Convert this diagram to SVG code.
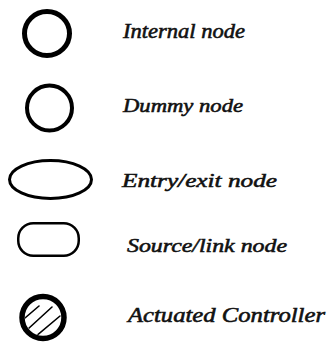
<svg xmlns="http://www.w3.org/2000/svg" width="329" height="344" viewBox="0 0 329 344">
  <style>
    .shape { fill: none; stroke: #000; }
    .label { font-family: "Liberation Serif", "DejaVu Serif", serif; font-style: italic; font-weight: normal; fill: #111; stroke: #111; stroke-width: 0.55; }
    .hatch { stroke: #000; stroke-width: 1.6; stroke-linecap: round; }
  </style>
  <defs>
    <clipPath id="ctrl-clip">
      <circle cx="43" cy="317.5" r="18"/>
    </clipPath>
  </defs>

  <rect width="329" height="344" fill="#fff"/>

  <!-- Internal node -->
  <g id="internal-node">
    <ellipse class="shape" cx="47" cy="33.5" rx="22.5" ry="22" stroke-width="5"/>
    <text class="label" x="123" y="38" font-size="20" textLength="122" lengthAdjust="spacingAndGlyphs">Internal node</text>
  </g>

  <!-- Dummy node -->
  <g id="dummy-node">
    <circle class="shape" cx="49.5" cy="108" r="22.5" stroke-width="4"/>
    <text class="label" x="123" y="111.5" font-size="19" textLength="120" lengthAdjust="spacingAndGlyphs">Dummy node</text>
  </g>

  <!-- Entry/exit node -->
  <g id="entry-exit-node">
    <ellipse class="shape" cx="50.5" cy="179.5" rx="41" ry="19" stroke-width="3"/>
    <text class="label" x="122" y="186.5" font-size="19.5" textLength="155" lengthAdjust="spacingAndGlyphs">Entry/exit node</text>
  </g>

  <!-- Source/sink node -->
  <g id="source-sink-node">
    <rect class="shape" x="18.25" y="223.25" width="60.5" height="32.5" rx="15" ry="15" stroke-width="2.5"/>
    <text class="label" x="127" y="251.5" font-size="19" textLength="160" lengthAdjust="spacingAndGlyphs">Source/link node</text>
  </g>

  <!-- Actuated controller -->
  <g id="actuated-controller">
    <g clip-path="url(#ctrl-clip)">
      <line class="hatch" x1="25" y1="318" x2="39" y2="306"/>
      <line class="hatch" x1="28" y1="329" x2="52" y2="307"/>
      <line class="hatch" x1="35" y1="337" x2="60" y2="316"/>
    </g>
    <circle class="shape" cx="43" cy="317.5" r="21" stroke-width="5.5"/>
    <text class="label" x="128" y="322" font-size="20" textLength="197" lengthAdjust="spacingAndGlyphs">Actuated Controller</text>
  </g>
</svg>
